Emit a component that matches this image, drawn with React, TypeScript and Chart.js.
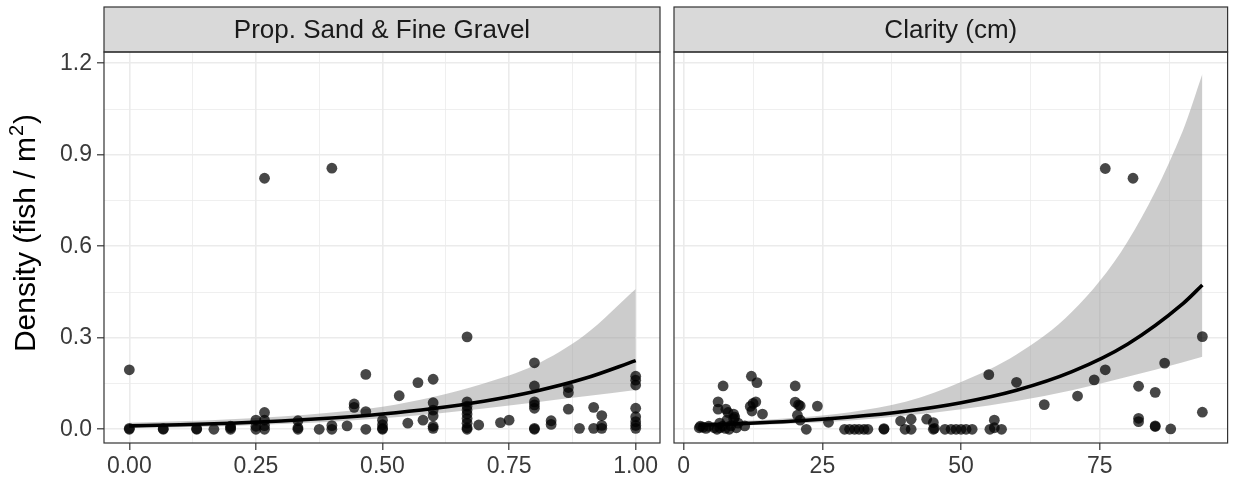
import React, { useEffect, useRef } from 'react';
import { Chart, registerables } from 'chart.js';
Chart.register(...registerables);

// ---------- data ----------
const panelTitles = ['Prop. Sand & Fine Gravel', 'Clarity (cm)'];
const yAxisTitle = 'Density (fish / m';
const yAxisTitleSup = '2';

const yTickValues = [0, 0.3, 0.6, 0.9, 1.2];
const yTickLabels = ['0.0', '0.3', '0.6', '0.9', '1.2'];
const yMinorValues = [0.15, 0.45, 0.75, 1.05];

const sandTickValues = [0, 0.25, 0.5, 0.75, 1];
const sandTickLabels = ['0.00', '0.25', '0.50', '0.75', '1.00'];
const sandMinorValues = [0.125, 0.375, 0.625, 0.875];

const clarityTickValues = [0, 25, 50, 75];
const clarityTickLabels = ['0', '25', '50', '75'];
const clarityMinorValues = [12.5, 37.5, 62.5, 87.5];

// observed points: proportion sand & fine gravel
const sandX = [
  0, 0, 0, 0.067, 0.067, 0.133, 0.133, 0.167, 0.2, 0.2, 0.2,
  0.25, 0.25, 0.25, 0.267, 0.267, 0.267, 0.267, 0.267,
  0.333, 0.333, 0.333, 0.375, 0.4, 0.4, 0.4, 0.43, 0.444, 0.444,
  0.467, 0.467, 0.467, 0.5, 0.5, 0.5, 0.5, 0.533, 0.55, 0.57, 0.58,
  0.6, 0.6, 0.6, 0.6, 0.6, 0.6,
  0.667, 0.667, 0.667, 0.667, 0.667, 0.667, 0.667, 0.667, 0.667,
  0.69, 0.733, 0.75,
  0.8, 0.8, 0.8, 0.8, 0.8, 0.8, 0.8,
  0.833, 0.833, 0.867, 0.867, 0.867, 0.889, 0.917, 0.917, 0.933, 0.933, 0.933,
  1, 1, 1, 1, 1, 1, 1, 1,
];
const sandY = [
  0.195, 0.003, 0, 0, 0.002, 0, 0.002, 0, 0, 0.005, 0.01,
  0, 0.01, 0.03, 0, 0.012, 0.03, 0.055, 0.823,
  0, 0.005, 0.028, 0, 0, 0.012, 0.856, 0.011, 0.083, 0.072,
  0.18, 0.058, 0, 0, 0.003, 0.015, 0.03, 0.11, 0.02, 0.153, 0.03,
  0.164, 0.087, 0.063, 0.044, 0.01, 0.003,
  0.303, 0.09, 0.076, 0.063, 0.05, 0.035, 0.02, 0.005, 0,
  0.014, 0.022, 0.03,
  0.218, 0.142, 0.09, 0.08, 0.069, 0.003, 0,
  0.028, 0.016, 0.137, 0.12, 0.066, 0.003, 0.072, 0.003, 0.045, 0.013, 0.003,
  0.174, 0.161, 0.145, 0.069, 0.041, 0.025, 0.013, 0.003,
];

// observed points: clarity (cm)
const clarityX = [
  2.8, 3.0, 3.5, 4, 4.5, 5.5, 6.0, 6.2, 6.2, 6.5, 6.5, 7.1, 7.0, 7.5, 7.6, 7.8, 8, 8.2, 8.5,
  9, 9, 9.2, 9.5, 9.8, 11,
  12.2, 13.2, 12, 12.5, 13, 12.3, 14.2,
  20.1, 20.1, 20.7, 21, 20.5, 21, 22.1, 24.1, 26.1,
  29.0, 29.9, 30.8, 31.6, 32.5, 33.2, 36.1, 36.1,
  39.1, 39.9, 41, 41, 43.8, 45, 45, 45.2,
  47.1, 48.2, 49.1, 50, 50.9, 52,
  55, 55.2, 56, 56, 57.3,
  60, 65, 71, 74, 76, 76, 81,
  82, 82, 82, 85, 85, 85, 86.7, 87.8, 93.5, 93.5,
];
const clarityY = [
  0.005, 0.01, 0.007, 0.003, 0.01, 0.005, 0, 0.09, 0.066, 0.02, 0.005, 0.142, 0.01, 0.003, 0.066, 0.03, 0.055, 0, 0.012,
  0.05, 0.035, 0.04, 0.005, 0.02, 0.011,
  0.174, 0.153, 0.075, 0.085, 0.09, 0.06, 0.05,
  0.142, 0.089, 0.08, 0.077, 0.046, 0.03, 0, 0.076, 0.023,
  0, 0, 0, 0, 0, 0, 0, 0.002,
  0.027, 0, 0, 0.033, 0.033, 0.022, 0, 0.003,
  0, 0, 0, 0, 0, 0,
  0.179, 0, 0.03, 0.005, 0,
  0.154, 0.081, 0.109, 0.162, 0.195, 0.855, 0.823,
  0.141, 0.036, 0.025, 0.121, 0.011, 0.009, 0.217, 0.001, 0.304, 0.056,
];

// fitted curves and confidence bands
const sandFitX = [0, 0.1, 0.2, 0.3, 0.4, 0.5, 0.6, 0.7, 0.8, 0.9, 1.0];
const sandFit = [0.011, 0.015, 0.020, 0.027, 0.037, 0.050, 0.068, 0.092, 0.124, 0.167, 0.225];
const sandLower = [0.004, 0.007, 0.011, 0.017, 0.025, 0.036, 0.050, 0.068, 0.088, 0.108, 0.129];
const sandUpper = [0.021, 0.026, 0.033, 0.042, 0.055, 0.074, 0.106, 0.150, 0.210, 0.310, 0.460];

const clarityFitX = [2.8, 10, 20, 30, 40, 50, 60, 70, 80, 90, 93.5];
const clarityFit = [0.0134, 0.018, 0.027, 0.040, 0.059, 0.087, 0.128, 0.189, 0.279, 0.412, 0.473];
const clarityLower = [0.008, 0.012, 0.019, 0.029, 0.045, 0.066, 0.093, 0.128, 0.172, 0.220, 0.238];
const clarityUpper = [0.022, 0.027, 0.038, 0.056, 0.090, 0.155, 0.245, 0.385, 0.615, 0.98, 1.165];

// ---------- styling ----------
const FONT = "'Liberation Sans', Arial, Helvetica, sans-serif";
const W = 1233;
const H = 482;
const STRIP_TOP = 7;
const PANEL_TOP = 52;
const PANEL_BOTTOM = 443;
const Y_MIN = -0.045;
const Y_MAX = 1.237;
const TICK_TEXT = '#3A3A3A';

const near = (v: number, arr: number[]) => arr.some((a) => Math.abs(a - v) < 1e-9);
const labelFor = (v: number, vals: number[], labels: string[]) => {
  const i = vals.findIndex((a) => Math.abs(a - v) < 1e-9);
  return i >= 0 ? labels[i] : '';
};
const buildTicks = (major: number[], minor: number[]) =>
  [...major, ...minor].sort((a, b) => a - b).map((value) => ({ value }));

const gridOpts = (major: number[], showTicks: boolean) => ({
  color: '#EBEBEB',
  lineWidth: (ctx: any) => (ctx.tick && near(ctx.tick.value, major) ? 1.6 : 0.8),
  drawTicks: showTicks,
  tickLength: showTicks ? 7 : 0,
  tickColor: (ctx: any) => (ctx.tick && near(ctx.tick.value, major) ? '#333333' : 'rgba(0,0,0,0)'),
  tickWidth: 1.2,
});

const decorPlugin = (title: string, drawYTitle: boolean) => ({
  id: 'panelDecor',
  afterDraw(chart: any) {
    const { ctx } = chart;
    const { left, right, top, bottom } = chart.chartArea;
    ctx.save();
    ctx.fillStyle = '#D9D9D9';
    ctx.fillRect(left, STRIP_TOP, right - left, top - STRIP_TOP);
    ctx.strokeStyle = '#333333';
    ctx.lineWidth = 1.2;
    ctx.strokeRect(left, STRIP_TOP, right - left, top - STRIP_TOP);
    ctx.strokeRect(left, top, right - left, bottom - top);
    ctx.fillStyle = '#1A1A1A';
    ctx.font = `26px ${FONT}`;
    ctx.textAlign = 'center';
    ctx.textBaseline = 'middle';
    ctx.fillText(title, (left + right) / 2, (STRIP_TOP + top) / 2 + 1);
    if (drawYTitle) {
      ctx.translate(26, 233);
      ctx.rotate(-Math.PI / 2);
      ctx.fillStyle = '#000000';
      ctx.textAlign = 'left';
      ctx.textBaseline = 'alphabetic';
      ctx.font = `30px ${FONT}`;
      const w1 = ctx.measureText(yAxisTitle).width;
      ctx.font = `20px ${FONT}`;
      const w2 = ctx.measureText(yAxisTitleSup).width;
      ctx.font = `30px ${FONT}`;
      const w3 = ctx.measureText(')').width;
      const total = w1 + w2 + 2 + w3;
      let x = -total / 2;
      const base = 9;
      ctx.fillText(yAxisTitle, x, base);
      x += w1 + 1;
      ctx.font = `20px ${FONT}`;
      ctx.fillText(yAxisTitleSup, x, base - 12);
      x += w2 + 1;
      ctx.font = `30px ${FONT}`;
      ctx.fillText(')', x, base);
    }
    ctx.restore();
  },
});

type PanelProps = {
  left: number;
  width: number;
  padLeft: number;
  padRight: number;
  yAxisWidth: number;
  showYLabels: boolean;
  title: string;
  xMin: number;
  xMax: number;
  xMajor: number[];
  xMinor: number[];
  xLabels: string[];
  px: number[];
  py: number[];
  fx: number[];
  fit: number[];
  lower: number[];
  upper: number[];
};

function Panel(p: PanelProps) {
  const ref = useRef<HTMLCanvasElement>(null);
  useEffect(() => {
    if (!ref.current) return;
    const pts = p.px.map((x, i) => ({ x, y: p.py[i] }));
    const fitPts = p.fx.map((x, i) => ({ x, y: p.fit[i] }));
    const lowPts = p.fx.map((x, i) => ({ x, y: p.lower[i] }));
    const upPts = p.fx.map((x, i) => ({ x, y: p.upper[i] }));
    const chart = new Chart(ref.current, {
      type: 'scatter',
      data: {
        datasets: [
          {
            type: 'line',
            data: fitPts,
            borderColor: '#000000',
            borderWidth: 3.6,
            pointRadius: 0,
            cubicInterpolationMode: 'monotone',
            fill: false,
          } as any,
          {
            type: 'scatter',
            data: pts,
            pointRadius: 5.4,
            pointBackgroundColor: 'rgba(0,0,0,0.72)',
            pointBorderWidth: 0,
            borderWidth: 0,
          } as any,
          {
            type: 'line',
            data: upPts,
            borderWidth: 0,
            borderColor: 'rgba(0,0,0,0)',
            pointRadius: 0,
            cubicInterpolationMode: 'monotone',
            backgroundColor: 'rgba(153,153,153,0.5)',
            fill: '+1',
          } as any,
          {
            type: 'line',
            data: lowPts,
            borderWidth: 0,
            borderColor: 'rgba(0,0,0,0)',
            pointRadius: 0,
            cubicInterpolationMode: 'monotone',
            fill: false,
          } as any,
        ],
      },
      options: {
        animation: false,
        responsive: false,
        devicePixelRatio: 1,
        events: [],
        layout: { padding: { left: p.padLeft, right: p.padRight, top: PANEL_TOP, bottom: 0 } },
        plugins: { legend: { display: false }, tooltip: { enabled: false }, title: { display: false } },
        scales: {
          x: {
            type: 'linear',
            min: p.xMin,
            max: p.xMax,
            afterBuildTicks: (s: any) => {
              s.ticks = buildTicks(p.xMajor, p.xMinor);
            },
            afterFit: (s: any) => {
              s.height = H - PANEL_BOTTOM;
            },
            ticks: {
              autoSkip: false,
              maxRotation: 0,
              minRotation: 0,
              padding: 3,
              color: TICK_TEXT,
              font: { family: FONT, size: 23 },
              callback: (v: any) => labelFor(Number(v), p.xMajor, p.xLabels),
            },
            grid: gridOpts(p.xMajor, true) as any,
            border: { display: false },
          },
          y: {
            type: 'linear',
            min: Y_MIN,
            max: Y_MAX,
            afterBuildTicks: (s: any) => {
              s.ticks = buildTicks(yTickValues, yMinorValues);
            },
            afterFit: (s: any) => {
              s.width = p.yAxisWidth;
            },
            ticks: {
              display: p.showYLabels,
              autoSkip: false,
              padding: 5,
              color: TICK_TEXT,
              font: { family: FONT, size: 23 },
              callback: (v: any) => labelFor(Number(v), yTickValues, yTickLabels),
            },
            grid: gridOpts(yTickValues, p.showYLabels) as any,
            border: { display: false },
          },
        },
      },
      plugins: [decorPlugin(p.title, p.showYLabels)],
    } as any);
    return () => chart.destroy();
  }, []);
  return (
    <canvas
      ref={ref}
      width={p.width}
      height={H}
      style={{ position: 'absolute', left: p.left, top: 0, width: p.width, height: H, display: 'block' }}
    />
  );
}

export default function App() {
  return (
    <div style={{ position: 'fixed', left: 0, top: 0, width: W, height: H, background: '#FFFFFF', overflow: 'hidden' }}>
      <Panel
        left={0}
        width={667}
        padLeft={0}
        padRight={7}
        yAxisWidth={104}
        showYLabels={true}
        title={panelTitles[0]}
        xMin={-0.05}
        xMax={1.048}
        xMajor={sandTickValues}
        xMinor={sandMinorValues}
        xLabels={sandTickLabels}
        px={sandX}
        py={sandY}
        fx={sandFitX}
        fit={sandFit}
        lower={sandLower}
        upper={sandUpper}
      />
      <Panel
        left={667}
        width={566}
        padLeft={7}
        padRight={4}
        yAxisWidth={0}
        showYLabels={false}
        title={panelTitles[1]}
        xMin={-1.75}
        xMax={98.05}
        xMajor={clarityTickValues}
        xMinor={clarityMinorValues}
        xLabels={clarityTickLabels}
        px={clarityX}
        py={clarityY}
        fx={clarityFitX}
        fit={clarityFit}
        lower={clarityLower}
        upper={clarityUpper}
      />
    </div>
  );
}
